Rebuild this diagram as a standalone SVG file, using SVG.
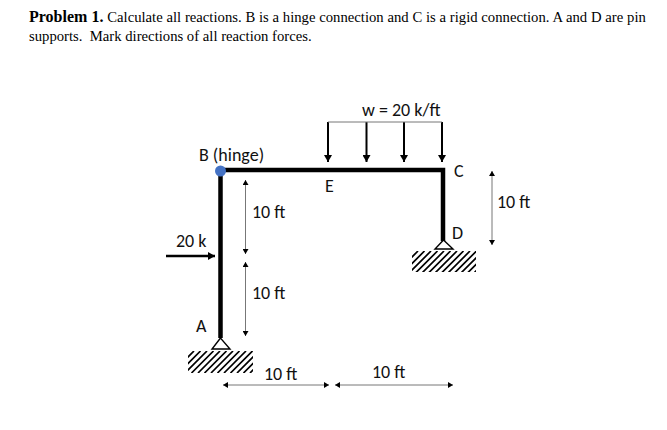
<svg xmlns="http://www.w3.org/2000/svg" width="667" height="430" viewBox="0 0 667 430">
<style>
.t{font-family:"Liberation Serif","Times New Roman",serif;font-size:14.7px;fill:#000}
.l{font-family:Carlito,Lato,"Open Sans","Liberation Sans",sans-serif;font-size:18px;fill:#111}
.m{stroke:#000;stroke-width:4.500px;fill:none}
.d{stroke:#777;stroke-width:1px;fill:none;marker-start:url(#ds);marker-end:url(#de)}
.f{stroke:#000;stroke-width:2px;fill:none;marker-end:url(#fa)}
.s{fill:#fff;stroke:#000;stroke-width:1.400px}
.h{stroke:#000;stroke-width:1.700px}
</style>
<defs>
<marker id="de" markerUnits="userSpaceOnUse" markerWidth="6" markerHeight="6" refX="5" refY="3" orient="auto"><path d="M0 0L5 3L0 6Z" fill="#000"/></marker>
<marker id="ds" markerUnits="userSpaceOnUse" markerWidth="6" markerHeight="6" refX="0" refY="3" orient="auto"><path d="M5 0L0 3L5 6Z" fill="#000"/></marker>
<marker id="fa" markerUnits="userSpaceOnUse" markerWidth="8" markerHeight="8" refX="7" refY="4" orient="auto"><path d="M0 0L7 4L0 8Z" fill="#000"/></marker>
<clipPath id="ca"><rect x="188" y="351" width="65" height="22"/></clipPath>
<clipPath id="cd"><rect x="412" y="251" width="64" height="21"/></clipPath>
<path id="hatch" d="M-16 22L6 0M-9.500 22L12.500 0M-3 22L19 0M3.500 22L25.500 0M10 22L32 0M16.500 22L38.500 0M23 22L45 0M29.500 22L51.500 0M36 22L58 0M42.500 22L64.500 0M49 22L71 0M55.500 22L77.500 0M62 22L84 0"/>
</defs>
<g id="problem-text">
<text class="t" x="29" y="22" word-spacing="0.1"><tspan font-weight="bold" font-size="16">Problem 1.</tspan> Calculate all reactions. B is a hinge connection and C is a rigid connection. A and D are pin</text>
<text class="t" x="29" y="41" xml:space="preserve">supports.  Mark directions of all reaction forces.</text>
</g>
<g id="connectors">
<path class="f" d="M328 122V162"/>
<path class="f" d="M366.500 122V162"/>
<path class="f" d="M404 122V162"/>
<path class="f" d="M442 122V162"/>
<path d="M328 122H442" stroke="#777" stroke-width="1" fill="none"/>
<path class="f" style="stroke-width:2.500px" d="M166 256H215"/>
<path class="d" d="M245.500 180V254"/>
<path class="d" d="M245.500 262V336"/>
<path class="d" d="M223 385H329"/>
<path class="d" d="M335 385H453"/>
<path class="d" d="M492 171V245"/>
</g>
<g id="frame">
<path class="m" d="M220.500 338V170H443V241"/>
</g>
<g id="node-B">
<circle cx="220.500" cy="171" r="5.500" fill="#4472c4"/>
<text class="l" x="199" y="161">B (hinge)</text>
</g>
<g id="node-A">
<g clip-path="url(#ca)"><use href="#hatch" x="188" y="351" class="h"/></g>
<path class="s" d="M220.500 338L212 349H230Z"/>
<text class="l" x="196" y="332">A</text>
</g>
<g id="node-D">
<g clip-path="url(#cd)"><use href="#hatch" x="412" y="251" class="h"/></g>
<path class="s" d="M443.500 240L435 249H453Z"/>
<text class="l" x="452" y="239">D</text>
</g>
<g id="node-C"><text class="l" x="454" y="177">C</text></g>
<g id="node-E"><text class="l" x="325" y="192">E</text></g>
<g id="labels">
<text class="l" x="362" y="116">w = 20 k/ft</text>
<text class="l" x="176" y="247">20 k</text>
<text class="l" x="252" y="218">10 ft</text>
<text class="l" x="252" y="299">10 ft</text>
<text class="l" x="264" y="380">10 ft</text>
<text class="l" x="372" y="378">10 ft</text>
<text class="l" x="497" y="208">10 ft</text>
</g>
</svg>
